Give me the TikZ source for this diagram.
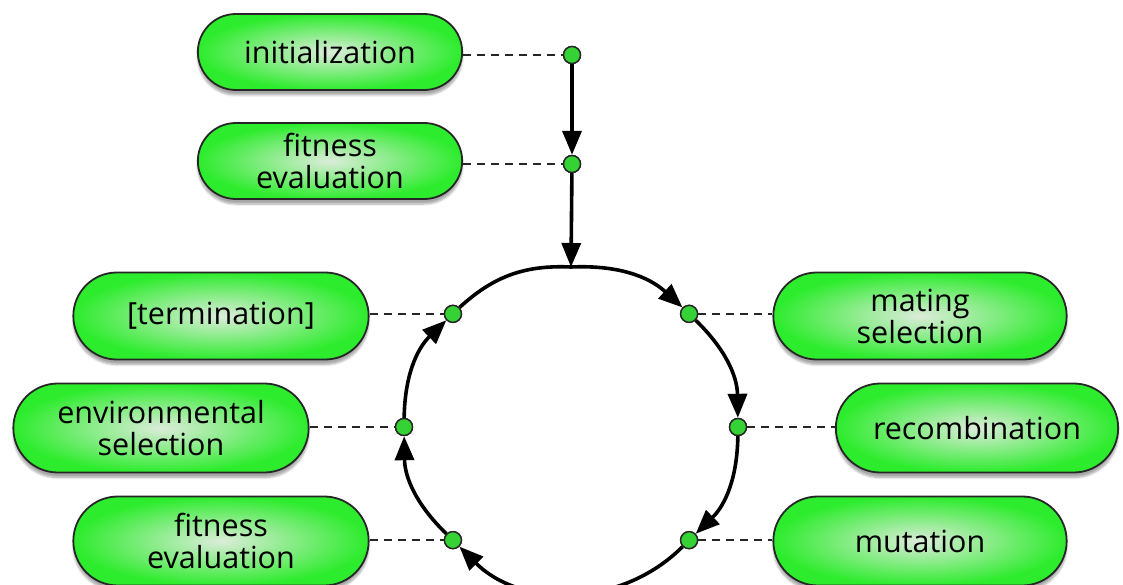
\documentclass[tikz,border=0pt]{standalone}
\usepackage{fontspec}
\setmainfont{Open Sans}
\usetikzlibrary{arrows.meta,shadows.blur,calc,shapes.misc}
\definecolor{boxedge}{RGB}{45,236,45}
\definecolor{boxmid}{RGB}{220,236,218}
\definecolor{dotfill}{RGB}{52,210,52}
\tikzset{
  pill/.style={rounded rectangle, draw=black!85, line width=1.8pt,
    inner color=boxmid, outer color=boxedge,
    minimum height=#1, align=center, font=\fontsize{30.5}{32}\selectfont,
    blur shadow={shadow xshift=0pt, shadow yshift=-5pt, shadow blur steps=6, shadow opacity=35}},
  pill/.default=76pt,
  gdot/.style={circle, draw=black!85, line width=1.4pt, fill=dotfill, minimum size=17pt, inner sep=0pt},
  link/.style={dash pattern=on 8pt off 6pt, line width=1.6pt, black!85},
  flow/.style={line width=3.6pt, -{Triangle[length=24pt,width=19pt]}},
  ring/.style={line width=3.6pt},
}
\begin{document}
\begin{tikzpicture}[x=1pt,y=-1pt]
\useasboundingbox (0,0) rectangle (1123,585);
% ring geometry (y axis points down, so angles are negated)
\coordinate (c) at (571,427);
\def\rx{167}\def\ry{160}
\coordinate (top) at ($(c)+(-90:{\rx} and {\ry})$);
% boxes
\node[pill, minimum width=271pt] (init) at (330,52) {initialization};
\node[pill, minimum width=271pt] (fit1) at (330,161) {fitness\\evaluation};
\node[pill=87pt, minimum width=302pt] (term) at (221,316) {[termination]};
\node[pill=89pt, minimum width=302pt] (env) at (161,428) {environmental\\selection};
\node[pill=89pt, minimum width=302pt] (fit2) at (221,541) {fitness\\evaluation};
\node[pill=87pt, minimum width=300pt] (mate) at (920,316) {mating\\selection};
\node[pill=89pt, minimum width=289pt] (rec) at (977,428) {recombination};
\node[pill=89pt, minimum width=300pt] (mut) at (920,541) {mutation};
% dots
\node[gdot] (d0) at (572,55) {};
\node[gdot] (d1) at (572,164) {};
\node[gdot] (ur) at ($(c)+(-45:{\rx} and {\ry})$) {};
\node[gdot] (r) at ($(c)+(0:{\rx} and {\ry})$) {};
\node[gdot] (lr) at ($(c)+(45:{\rx} and {\ry})$) {};
\node[gdot] (ll) at ($(c)+(135:{\rx} and {\ry})$) {};
\node[gdot] (l) at ($(c)+(180:{\rx} and {\ry})$) {};
\node[gdot] (ul) at ($(c)+(-135:{\rx} and {\ry})$) {};
% ring
\draw[ring] (ul) to[bend left=22.5] (top);
\draw[flow] (top) to[bend left=22.5] (ur);
\draw[flow] (ur) to[bend left=22.5] (r);
\draw[flow] (r) to[bend left=22.5] (lr);
\draw[flow] (lr) to[bend left=45] (ll);
\draw[flow] (ll) to[bend left=22.5] (l);
\draw[flow] (l) to[bend left=22.5] (ul);
% vertical arrows
\draw[flow] (d0) -- (d1);
\draw[flow] (d1) -- (top);
% dashed links
\draw[link] (init.east |- d0) -- (d0);
\draw[link] (fit1.east |- d1) -- (d1);
\draw[link] (term.east |- ul) -- (ul);
\draw[link] (env.east |- l) -- (l);
\draw[link] (fit2.east |- ll) -- (ll);
\draw[link] (ur) -- (mate.west |- ur);
\draw[link] (r) -- (rec.west |- r);
\draw[link] (lr) -- (mut.west |- lr);
% dots on top
\foreach \n in {d0,d1,ur,r,lr,ll,l,ul}
  \node[gdot] at (\n) {};
\end{tikzpicture}
\end{document}
